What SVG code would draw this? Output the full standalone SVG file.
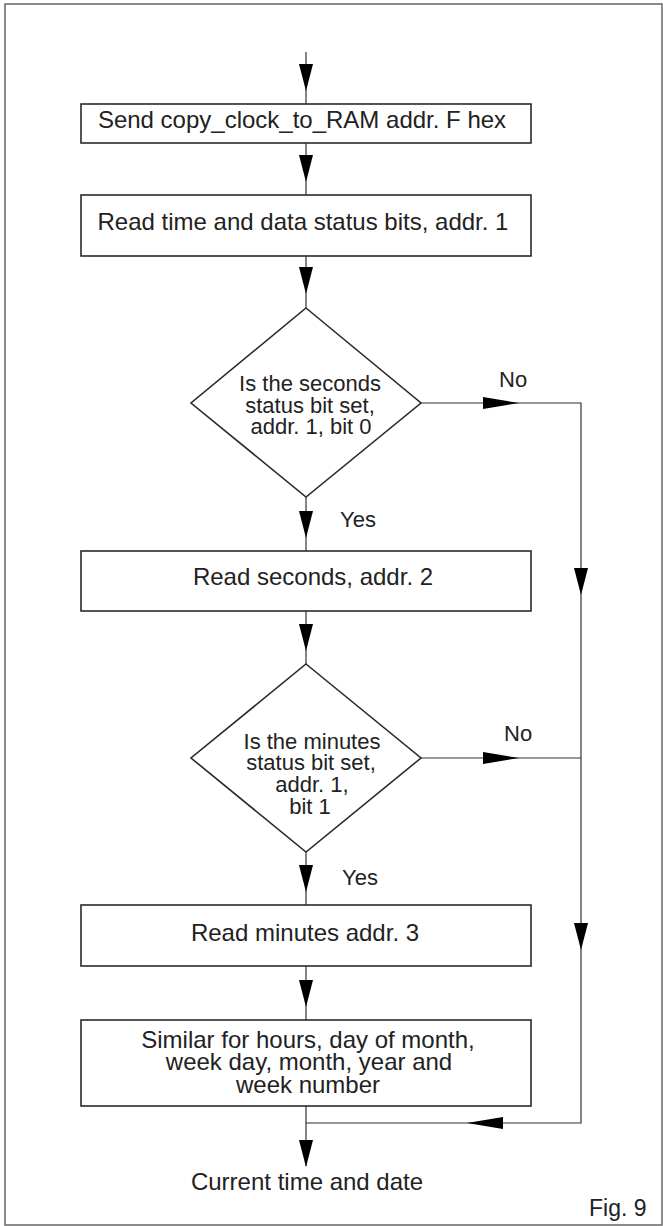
<svg xmlns="http://www.w3.org/2000/svg" xmlns:xlink="http://www.w3.org/1999/xlink" width="663" height="1226" viewBox="0 0 663 1226">
  <style>
    .frame { fill: none; stroke: #666; stroke-width: 1.5; }
    .node { fill: #fff; stroke: #2a2a2a; stroke-width: 1.6; }
    .conn { fill: none; stroke: #333; stroke-width: 1.2; }
    .head { fill: #000; stroke: none; }
    text { font-family: "Liberation Sans", Arial, Helvetica, sans-serif; fill: #222; }
    .t24 { font-size: 24px; text-anchor: middle; }
    .t22 { font-size: 22px; text-anchor: middle; }
    .lbl { font-size: 22px; }
  </style>
  <defs>
    <path id="ah-down" d="M-7,0 L7,0 L0,27 Z"/>
    <path id="ah-right" d="M0,-6 L0,6 L36,0 Z"/>
    <path id="ah-left" d="M0,-6 L0,6 L-36,0 Z"/>
  </defs>

  <rect class="frame" x="5" y="4" width="657" height="1221"/>

  <g id="connectors">
    <line class="conn" x1="306" y1="52" x2="306" y2="104"/>
    <line class="conn" x1="306" y1="143" x2="306" y2="195"/>
    <line class="conn" x1="306" y1="256" x2="306" y2="308"/>
    <line class="conn" x1="306" y1="497" x2="306" y2="551"/>
    <line class="conn" x1="306" y1="611" x2="306" y2="664"/>
    <line class="conn" x1="306" y1="852" x2="306" y2="905"/>
    <line class="conn" x1="306" y1="966" x2="306" y2="1020"/>
    <line class="conn" x1="306" y1="1106" x2="306" y2="1166"/>
    <polyline class="conn" points="421,403 581,403 581,1123 306,1123"/>
    <line class="conn" x1="421" y1="758" x2="581" y2="758"/>
    <g class="head">
      <use xlink:href="#ah-down" x="306" y="64"/>
      <use xlink:href="#ah-down" x="306" y="155"/>
      <use xlink:href="#ah-down" x="306" y="267"/>
      <use xlink:href="#ah-down" x="306" y="511"/>
      <use xlink:href="#ah-down" x="306" y="624"/>
      <use xlink:href="#ah-down" x="306" y="865"/>
      <use xlink:href="#ah-down" x="306" y="980"/>
      <use xlink:href="#ah-down" x="306" y="1140"/>
      <use xlink:href="#ah-down" x="581" y="568"/>
      <use xlink:href="#ah-down" x="581" y="923"/>
      <use xlink:href="#ah-right" x="483" y="403"/>
      <use xlink:href="#ah-right" x="483" y="758"/>
      <use xlink:href="#ah-left" x="503" y="1123"/>
    </g>
    <text class="lbl" x="499" y="387">No</text>
    <text class="lbl" x="504" y="741">No</text>
    <text class="lbl" x="340" y="527">Yes</text>
    <text class="lbl" x="342" y="885">Yes</text>
  </g>

  <g id="n1">
    <rect class="node" x="81" y="104" width="450" height="39"/>
    <text class="t24" x="302" y="128">Send copy_clock_to_RAM addr. F hex</text>
  </g>
  <g id="n2">
    <rect class="node" x="81" y="195" width="450" height="61"/>
    <text class="t24" x="303" y="230">Read time and data status bits, addr. 1</text>
  </g>
  <g id="d1">
    <polygon class="node" points="306,308 421,403 306,497 191,403"/>
    <text class="t22" x="310" y="391">Is the seconds</text>
    <text class="t22" x="310" y="413">status bit set,</text>
    <text class="t22" x="311" y="434">addr. 1, bit 0</text>
  </g>
  <g id="n3">
    <rect class="node" x="81" y="551" width="450" height="60"/>
    <text class="t24" x="313" y="585">Read seconds, addr. 2</text>
  </g>
  <g id="d2">
    <polygon class="node" points="306,664 421,758 306,852 191,758"/>
    <text class="t22" x="312" y="749">Is the minutes</text>
    <text class="t22" x="311" y="770">status bit set,</text>
    <text class="t22" x="312" y="792">addr. 1,</text>
    <text class="t22" x="310" y="814">bit 1</text>
  </g>
  <g id="n4">
    <rect class="node" x="81" y="905" width="450" height="61"/>
    <text class="t24" x="305" y="941">Read minutes addr. 3</text>
  </g>
  <g id="n5">
    <rect class="node" x="81" y="1020" width="450" height="86"/>
    <text class="t24" x="308" y="1048">Similar for hours, day of month,</text>
    <text class="t24" x="309" y="1070">week day, month, year and</text>
    <text class="t24" x="308" y="1093">week number</text>
  </g>
  <g id="end">
    <text class="t24" x="307" y="1190">Current time and date</text>
  </g>
  <text x="589" y="1216" style="font-size:23px">Fig. 9</text>
</svg>
